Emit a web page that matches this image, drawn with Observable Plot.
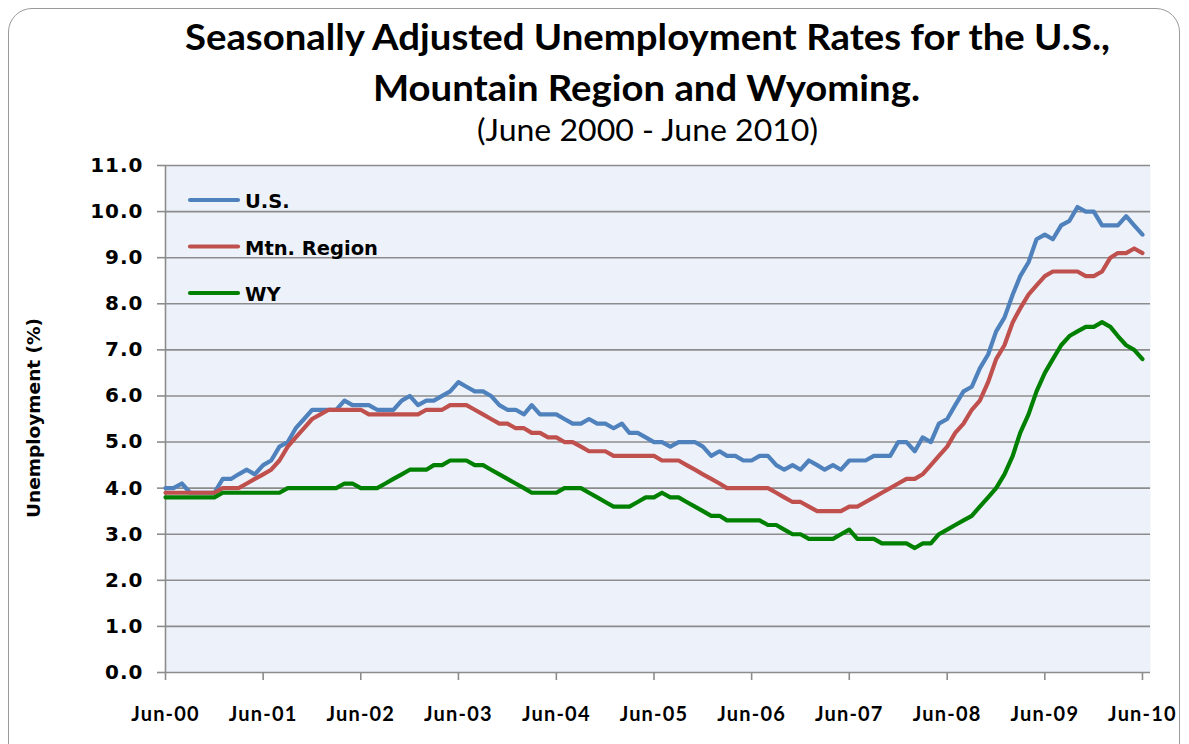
<!DOCTYPE html>
<html>
<head>
<meta charset="utf-8">
<script src="https://cdn.jsdelivr.net/npm/d3@7"></script>
<script src="https://cdn.jsdelivr.net/npm/@observablehq/plot@0.6"></script>
<style>
  html, body { margin: 0; padding: 0; background: #ffffff; }
  #wrap { position: relative; width: 1189px; height: 744px; overflow: hidden; background: #ffffff; }
  #border { position: absolute; left: 8px; top: 8px; width: 1172px; height: 790px; border: 1.5px solid #9a9a9a; border-radius: 24px; box-sizing: border-box; }
  #titles, #overlay { position: absolute; left: 0; top: 0; }
  #chart { position: absolute; left: 0; top: 150px; }
  #overlay { pointer-events: none; }
</style>
</head>
<body>
<div id="wrap">
  <div id="border"></div>
  <svg id="titles" width="1189" height="150"></svg>
  <div id="chart"></div>
  <svg id="overlay" width="1189" height="744"></svg>
</div>
<script>
// ---------- DATA ----------
const titleLines = ["Seasonally Adjusted Unemployment Rates for the U.S.,", "Mountain Region and Wyoming."];
const subtitle = "(June 2000 - June 2010)";
const yAxisTitle = "Unemployment (%)";
const seriesNames = ["U.S.", "Mtn. Region", "WY"];
const seriesColors = ["#4F81BD", "#C0504D", "#008000"];
const startMonth = "2000-06-01";   // first monthly observation
const endMonth = "2010-07-01";     // right edge of the category axis
const xTickLabels = ["Jun-00","Jun-01","Jun-02","Jun-03","Jun-04","Jun-05","Jun-06","Jun-07","Jun-08","Jun-09","Jun-10"];
const yTicks = [0,1,2,3,4,5,6,7,8,9,10,11];

// Monthly values, Jun 2000 ... Jun 2010 (121 months)
const usRate = [
  4.0,4.0,4.1,3.9,3.9,3.9,3.9,                       // Jun-Dec 2000
  4.2,4.2,4.3,4.4,4.3,4.5,4.6,4.9,5.0,5.3,5.5,5.7,   // 2001
  5.7,5.7,5.7,5.9,5.8,5.8,5.8,5.7,5.7,5.7,5.9,6.0,   // 2002
  5.8,5.9,5.9,6.0,6.1,6.3,6.2,6.1,6.1,6.0,5.8,5.7,   // 2003
  5.7,5.6,5.8,5.6,5.6,5.6,5.5,5.4,5.4,5.5,5.4,5.4,   // 2004
  5.3,5.4,5.2,5.2,5.1,5.0,5.0,4.9,5.0,5.0,5.0,4.9,   // 2005
  4.7,4.8,4.7,4.7,4.6,4.6,4.7,4.7,4.5,4.4,4.5,4.4,   // 2006
  4.6,4.5,4.4,4.5,4.4,4.6,4.6,4.6,4.7,4.7,4.7,5.0,   // 2007
  5.0,4.8,5.1,5.0,5.4,5.5,5.8,6.1,6.2,6.6,6.9,7.4,   // 2008
  7.7,8.2,8.6,8.9,9.4,9.5,9.4,9.7,9.8,10.1,10.0,10.0,// 2009
  9.7,9.7,9.7,9.9,9.7,9.5                            // Jan-Jun 2010
];
const mtnRate = [
  3.9,3.9,3.9,3.9,3.9,3.9,3.9,
  4.0,4.0,4.0,4.1,4.2,4.3,4.4,4.6,4.9,5.1,5.3,5.5,
  5.6,5.7,5.7,5.7,5.7,5.7,5.6,5.6,5.6,5.6,5.6,5.6,
  5.6,5.7,5.7,5.7,5.8,5.8,5.8,5.7,5.6,5.5,5.4,5.4,
  5.3,5.3,5.2,5.2,5.1,5.1,5.0,5.0,4.9,4.8,4.8,4.8,
  4.7,4.7,4.7,4.7,4.7,4.7,4.6,4.6,4.6,4.5,4.4,4.3,
  4.2,4.1,4.0,4.0,4.0,4.0,4.0,4.0,3.9,3.8,3.7,3.7,
  3.6,3.5,3.5,3.5,3.5,3.6,3.6,3.7,3.8,3.9,4.0,4.1,
  4.2,4.2,4.3,4.5,4.7,4.9,5.2,5.4,5.7,5.9,6.3,6.8,
  7.1,7.6,7.9,8.2,8.4,8.6,8.7,8.7,8.7,8.7,8.6,8.6,
  8.7,9.0,9.1,9.1,9.2,9.1
];
const wyRate = [
  3.8,3.8,3.8,3.8,3.8,3.8,3.8,
  3.9,3.9,3.9,3.9,3.9,3.9,3.9,3.9,4.0,4.0,4.0,4.0,
  4.0,4.0,4.0,4.1,4.1,4.0,4.0,4.0,4.1,4.2,4.3,4.4,
  4.4,4.4,4.5,4.5,4.6,4.6,4.6,4.5,4.5,4.4,4.3,4.2,
  4.1,4.0,3.9,3.9,3.9,3.9,4.0,4.0,4.0,3.9,3.8,3.7,
  3.6,3.6,3.6,3.7,3.8,3.8,3.9,3.8,3.8,3.7,3.6,3.5,
  3.4,3.4,3.3,3.3,3.3,3.3,3.3,3.2,3.2,3.1,3.0,3.0,
  2.9,2.9,2.9,2.9,3.0,3.1,2.9,2.9,2.9,2.8,2.8,2.8,
  2.8,2.7,2.8,2.8,3.0,3.1,3.2,3.3,3.4,3.6,3.8,4.0,
  4.3,4.7,5.2,5.6,6.1,6.5,6.8,7.1,7.3,7.4,7.5,7.5,
  7.6,7.5,7.3,7.1,7.0,6.8
];
const seriesValues = [usRate, mtnRate, wyRate];

// ---------- BUILD ----------
const start = new Date(startMonth + "T00:00:00Z");
const end = new Date(endMonth + "T00:00:00Z");
const rows = seriesNames.flatMap((name, s) =>
  seriesValues[s].map((v, i) => ({series: name, date: d3.utcMonth.offset(start, i), value: v}))
);
const tickDates = xTickLabels.map((_, k) => d3.utcYear.offset(start, k));

const gridColor = "#8c8c8c";
const tickFont = "'DejaVu Sans', Verdana, sans-serif";
const labelFont = "Lato, 'Open Sans', sans-serif";

const plot = Plot.plot({
  width: 1189,
  height: 594,
  marginLeft: 165,
  marginRight: 39,
  marginTop: 15,
  marginBottom: 72,
  style: {background: "transparent", overflow: "visible"},
  x: {type: "utc", domain: [start, end]},
  y: {domain: [0, 11]},
  color: {domain: seriesNames, range: seriesColors},
  marks: [
    Plot.frame({fill: "#EDF2FA", stroke: null}),
    Plot.ruleY(yTicks, {y: d => d, stroke: gridColor, strokeWidth: 1.6}),
    Plot.ruleX([start], {stroke: gridColor, strokeWidth: 1.6}),
    Plot.axisY({
      ticks: yTicks, tickFormat: d => d.toFixed(1), tickSize: 8, tickPadding: 14,
      stroke: gridColor, strokeWidth: 1.6, label: null,
      fontSize: 20, fontWeight: "bold", fontFamily: tickFont, fill: "#000"
    }),
    Plot.axisX({
      ticks: tickDates, tickFormat: d => xTickLabels[d.getUTCFullYear() - start.getUTCFullYear()],
      tickSize: 8, tickPadding: 26, stroke: gridColor, strokeWidth: 1.6, label: null,
      fontSize: 20, fontWeight: "bold", fontFamily: labelFont, fill: "#000"
    }),
    Plot.line(rows, {x: "date", y: "value", z: "series", stroke: "series", strokeWidth: 4.2, strokeLinejoin: "round", strokeLinecap: "round"})
  ]
});
plot.querySelectorAll("g[aria-label='x-axis tick label'] text").forEach(t => t.setAttribute("letter-spacing", "1.2"));
plot.querySelectorAll("g[aria-label='y-axis tick label'] text").forEach(t => t.setAttribute("letter-spacing", "1"));
document.getElementById("chart").appendChild(plot);

// ---------- TITLES ----------
const NS = "http://www.w3.org/2000/svg";
function addText(svg, str, attrs) {
  const t = document.createElementNS(NS, "text");
  for (const k in attrs) t.setAttribute(k, attrs[k]);
  t.textContent = str;
  svg.appendChild(t);
  return t;
}
const titles = document.getElementById("titles");
addText(titles, titleLines[0], {x: 647.5, y: 50, "text-anchor": "middle", "font-family": labelFont, "font-weight": "bold", "font-size": 36, textLength: 925, lengthAdjust: "spacingAndGlyphs", fill: "#000"});
addText(titles, titleLines[1], {x: 646.5, y: 101, "text-anchor": "middle", "font-family": labelFont, "font-weight": "bold", "font-size": 36, textLength: 547, lengthAdjust: "spacingAndGlyphs", fill: "#000"});
addText(titles, subtitle, {x: 647.5, y: 141, "text-anchor": "middle", "font-family": labelFont, "font-weight": "normal", "font-size": 31, textLength: 341, lengthAdjust: "spacingAndGlyphs", fill: "#000"});

// ---------- OVERLAY: y title + legend ----------
const ov = document.getElementById("overlay");
addText(ov, yAxisTitle, {x: 0, y: 0, transform: "translate(40,418) rotate(-90)", "text-anchor": "middle", "font-family": tickFont, "font-weight": "bold", "font-size": 18.5, fill: "#000"});
const legendY = [200, 246.5, 293];
seriesNames.forEach((name, s) => {
  const l = document.createElementNS(NS, "line");
  l.setAttribute("x1", 190); l.setAttribute("x2", 238);
  l.setAttribute("y1", legendY[s]); l.setAttribute("y2", legendY[s]);
  l.setAttribute("stroke", seriesColors[s]); l.setAttribute("stroke-width", 4.2); l.setAttribute("stroke-linecap", "round");
  ov.appendChild(l);
  addText(ov, name, {x: 245, y: legendY[s] + 8, "font-family": tickFont, "font-weight": "bold", "font-size": 19.5, fill: "#000"});
});
</script>
</body>
</html>
